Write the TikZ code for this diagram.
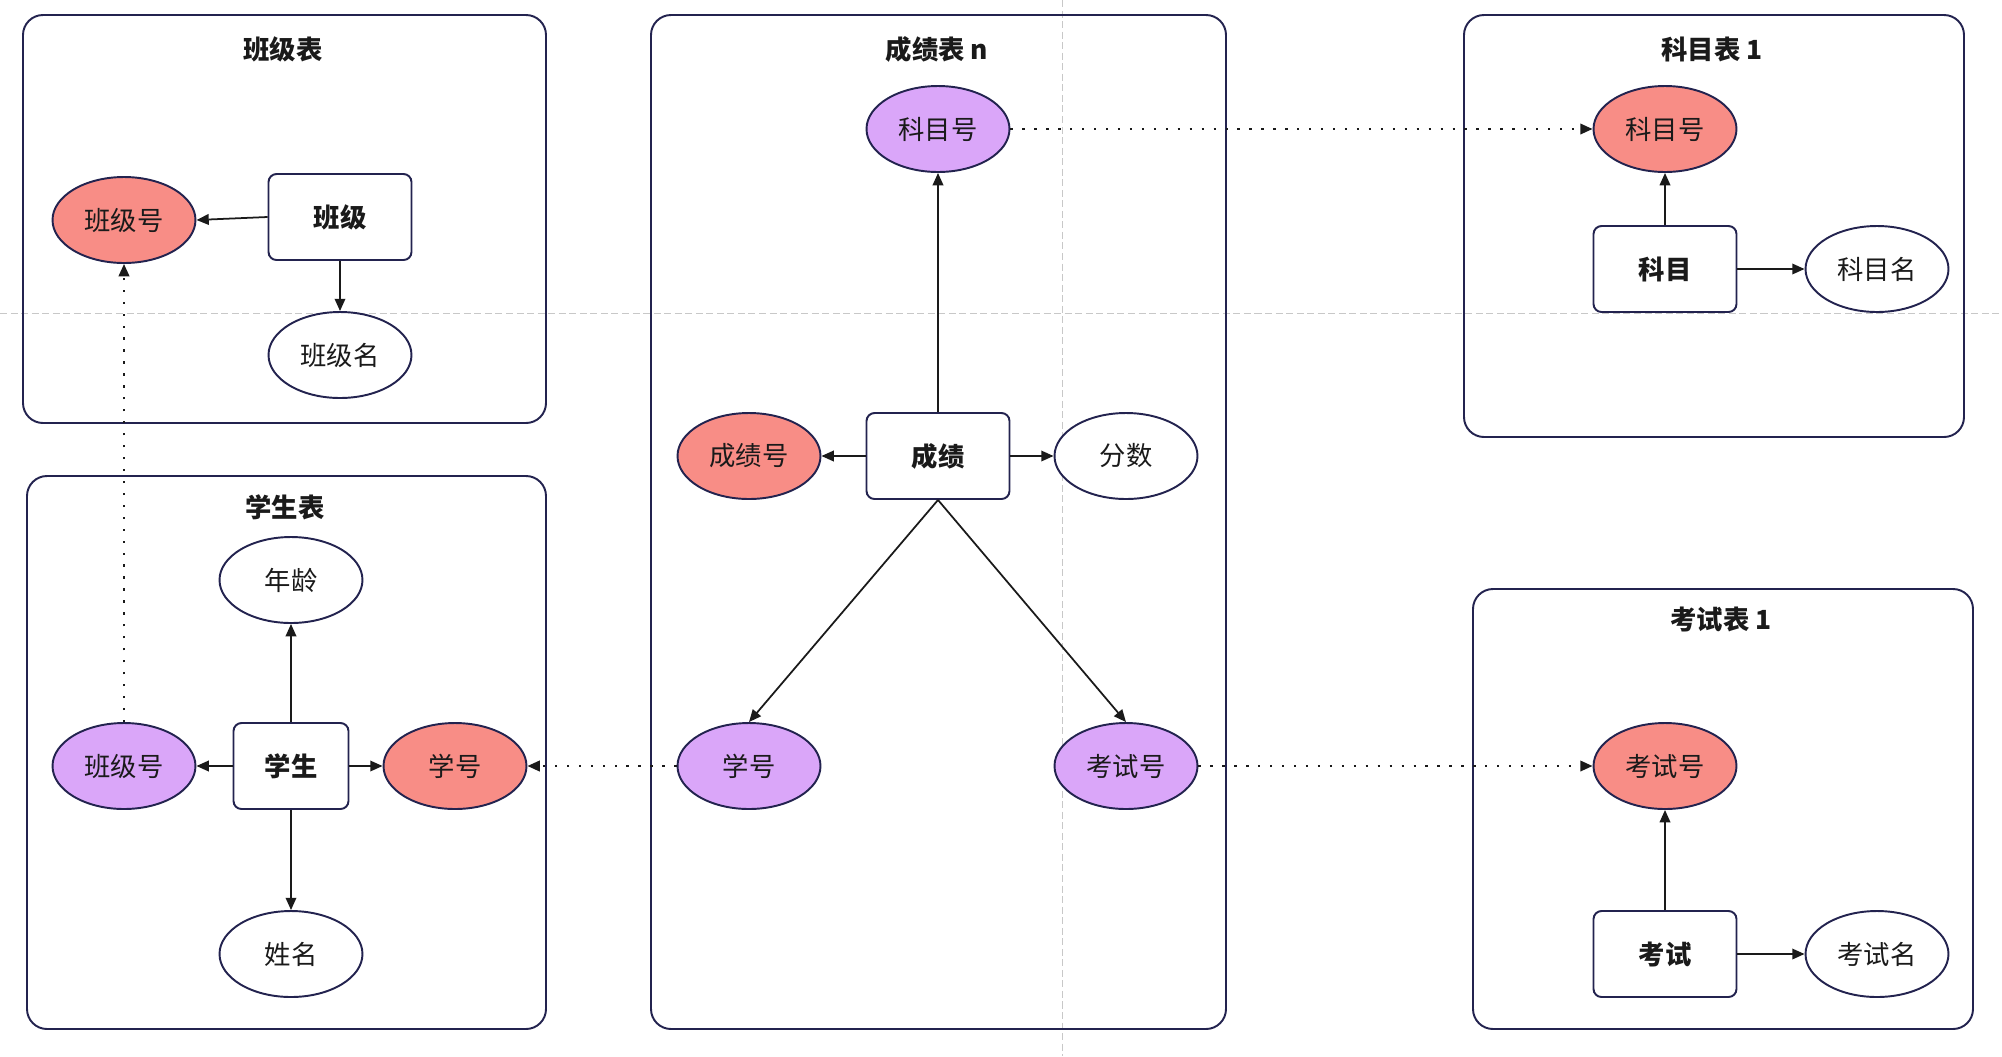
\documentclass[tikz,border=0pt]{standalone}
\usepackage{fontspec}
\setmainfont{Noto Sans CJK SC}
\usepackage{xcolor}
\usetikzlibrary{arrows.meta}
\usetikzlibrary{shapes.geometric}

\definecolor{rougecle}{HTML}{F88D86}
\definecolor{violetfk}{HTML}{DAA6F9}
\definecolor{bord}{HTML}{23234F}
\definecolor{fleche}{HTML}{1A1A1A}
\definecolor{guide}{HTML}{C8C8C8}

\begin{document}
\begin{tikzpicture}[x=0.02cm,y=-0.02cm]

\tikzset{
    forme/.style = {
    draw=bord, line width=1.1pt, text=fleche,
    minimum height=1.72cm,
    minimum width = 2.86cm,
    font=\fontsize{15}{18}\selectfont
    }
}

\tikzstyle{attribut}=[ellipse, forme, fill=white]
\tikzstyle{cle}=[ellipse, forme, fill=rougecle]
\tikzstyle{etrangere}=[ellipse, forme, fill=violetfk]
\tikzstyle{entite}=[rectangle, rounded corners=0.16cm, forme, fill=white, font=\fontsize{15}{18}\selectfont\bfseries]
\tikzstyle{tableau}=[draw=bord, line width=1.1pt, rounded corners=0.4cm]
\tikzstyle{titre}=[text=fleche, font=\fontsize{15}{18}\selectfont\bfseries]
\tikzstyle{lien}=[-{Triangle[length=7pt,width=6pt]}, line width=1pt, draw=fleche]
\tikzstyle{renvoi}=[lien, line width=1.2pt, dash pattern=on 1.3pt off 5.5pt]

\useasboundingbox (0,0) rectangle (2002,1056);

% lignes de repere
\draw[guide, line width=0.5pt, dash pattern=on 4pt off 2pt] (0,313) -- (2002,313);
\draw[guide, line width=0.5pt, dash pattern=on 4pt off 2pt] (1062,0) -- (1062,1056);

% tables
\draw[tableau] (23,15) rectangle (546,423);
\draw[tableau] (27,476) rectangle (546,1029);
\draw[tableau] (651,15) rectangle (1226,1029);
\draw[tableau] (1464,15) rectangle (1964,437);
\draw[tableau] (1473,589) rectangle (1973,1029);

\node (t-cls) [titre] at (283,49) {班级表};
\node (t-stu) [titre] at (285,507) {学生表};
\node (t-sc) [titre] at (937,49) {成绩表 n};
\node (t-sub) [titre] at (1712,49) {科目表 1};
\node (t-exm) [titre] at (1721,619) {考试表 1};

% classe
\node (cls-id) [cle] at (124,220) {班级号};
\node (cls) [entite] at (340,217) {班级};
\node (cls-name) [attribut] at (340,355) {班级名};

% eleve
\node (stu-age) [attribut] at (291,580) {年龄};
\node (stu) [entite, minimum width=2.3cm] at (291,766) {学生};
\node (stu-cls) [etrangere] at (124,766) {班级号};
\node (stu-id) [cle] at (455,766) {学号};
\node (stu-name) [attribut] at (291,954) {姓名};

% note
\node (sc-sub) [etrangere] at (938,129) {科目号};
\node (sc) [entite] at (938,456) {成绩};
\node (sc-id) [cle] at (749,456) {成绩号};
\node (sc-score) [attribut] at (1126,456) {分数};
\node (sc-stu) [etrangere] at (749,766) {学号};
\node (sc-exm) [etrangere] at (1126,766) {考试号};

% matiere
\node (sub-id) [cle] at (1665,129) {科目号};
\node (sub) [entite] at (1665,269) {科目};
\node (sub-name) [attribut] at (1877,269) {科目名};

% examen
\node (exm-id) [cle] at (1665,766) {考试号};
\node (exm) [entite] at (1665,954) {考试};
\node (exm-name) [attribut] at (1877,954) {考试名};

\draw[lien] (cls.west) -- (cls-id.east);
\draw[lien] (cls) -- (cls-name);

\draw[lien] (stu) -- (stu-age);
\draw[lien] (stu) -- (stu-name);
\draw[lien] (stu) -- (stu-cls);
\draw[lien] (stu) -- (stu-id);

\draw[lien] (sc) -- (sc-sub);
\draw[lien] (sc) -- (sc-id);
\draw[lien] (sc) -- (sc-score);
\draw[lien] (sc.south) -- (sc-stu.north);
\draw[lien] (sc.south) -- (sc-exm.north);

\draw[lien] (sub) -- (sub-id);
\draw[lien] (sub) -- (sub-name);
\draw[lien] (exm) -- (exm-id);
\draw[lien] (exm) -- (exm-name);

\draw[renvoi] (stu-cls) -- (cls-id);
\draw[renvoi] (sc-stu) -- (stu-id);
\draw[renvoi] (sc-sub) -- (sub-id);
\draw[renvoi] (sc-exm) -- (exm-id);

\end{tikzpicture}
\end{document}
